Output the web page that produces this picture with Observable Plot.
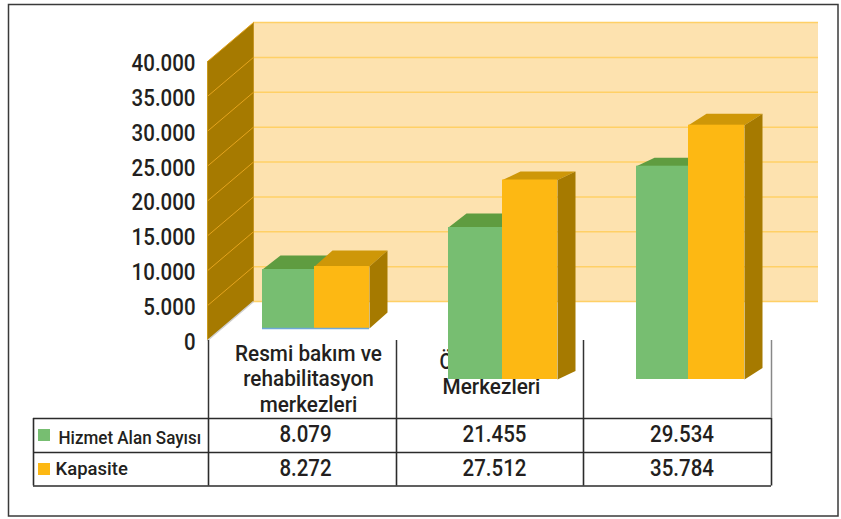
<!DOCTYPE html>
<html>
<head>
<meta charset="utf-8">
<script src="https://cdn.jsdelivr.net/npm/d3@7"></script>
<script src="https://cdn.jsdelivr.net/npm/@observablehq/plot@0.6"></script>
<style>
html,body{margin:0;padding:0;background:#fff}
svg{display:block;font-family:Roboto,sans-serif;font-weight:500}
</style>
</head>
<body>
<div id="chart"></div>
<script>
// ---- data ----
const categories = ["Resmi bakım ve\nrehabilitasyon\nmerkezleri", "Ö", "Merkezleri"];
const seriesNames = ["Hizmet Alan Sayısı", "Kapasite"];
const hizmetAlan = [8079, 21455, 29534];
const kapasite = [8272, 27512, 35784];
const yTicks = [0, 5000, 10000, 15000, 20000, 25000, 30000, 35000, 40000];
// drawn bars, in axis units (the picture's bars do not follow the table)
const barBase = [1720, -5590, -5590];
const greenTop = [10180, 16200, 24990];
const orangeTop = [10610, 23010, 30870];
const greenDepth = [2007, 2007, 1204];
const orangeDepth = [2294, 1219, 1634];

// ---- palette ----
const GREEN = "#77BE71", GREEN_TOP = "#5F9C40";
const ORANGE = "#FDB813", ORANGE_TOP = "#CE9708", ORANGE_SIDE = "#A67A00";
const WALL = "#FDE2AF", GRID = "#FFD066", SIDE_GRID = "#E5A41E", INK = "#231F20";

// ---- scales: one category = 187px, 40.000 = 279px ----
const W = 841, H = 519;
const pxX = px => (px - 314) / 187;
const pxY = px => (340 - px) * 40000 / 279;
const wallL = pxX(207), wallB = pxX(253), wallR = pxX(818);
const wallDy = pxY(301);
const depthX = 18 / 187;
const tick = d3.formatLocale({decimal: ",", thousands: ".", grouping: [3], currency: ["", ""]}).format(",");

const poly = (pts, fill) =>
  Plot.line(pts, {x: d => d[0], y: d => d[1], fill, stroke: "none", curve: "linear-closed"});

const marks = [];

// outer frame
marks.push(Plot.rect([0], {x1: pxX(8.5), x2: pxX(838), y1: pxY(516), y2: pxY(4.5), fill: "none", stroke: "#3a3a3a", strokeWidth: 1.5}));

// back wall and grid
marks.push(Plot.rect([0], {x1: wallB, x2: wallR, y1: wallDy, y2: 40000 + wallDy, fill: WALL}));
marks.push(Plot.ruleY(yTicks, {y: d => d + wallDy, x1: wallB, x2: wallR, stroke: GRID, strokeWidth: 1.5}));
marks.push(Plot.ruleX([wallB], {y1: wallDy, y2: 40000 + wallDy, stroke: "#E5B04A", strokeWidth: 1}));

// left wall and its grid
marks.push(poly([[wallL, 0], [wallB, wallDy], [wallB, 40000 + wallDy], [wallL, 40000]], ORANGE_SIDE));
marks.push(Plot.link(yTicks.slice(1), {x1: wallL, y1: d => d, x2: wallB, y2: d => d + wallDy, stroke: SIDE_GRID, strokeWidth: 1}));
marks.push(Plot.ruleX([wallL], {y1: 0, y2: 40000, stroke: "#C99A1E", strokeWidth: 1}));
marks.push(Plot.link([0], {x1: wallL, y1: 0, x2: wallB, y2: wallDy, stroke: "#cfcfcf", strokeWidth: 1.5}));

// table: upper column dividers
const colEdges = [pxX(208), pxX(396), pxX(583), pxX(771)];
marks.push(Plot.ruleX(colEdges, {y1: pxY(340), y2: pxY(418), stroke: (d, i) => i === 3 ? "#888" : "#333", strokeWidth: 1.5}));

// category labels (hidden partly by the bars in the reference)
const catFont = {fontSize: 21.5, fill: INK, lineHeight: 1.19};
marks.push(Plot.text([categories[0]], {x: pxX(308), y: pxY(377.5), text: d => d, ...catFont}));
marks.push(Plot.text([categories[1]], {x: pxX(439), y: pxY(360), text: d => d, textAnchor: "start", ...catFont}));
marks.push(Plot.text([categories[2]], {x: pxX(491), y: pxY(385), text: d => d, ...catFont}));

// bars
const barLeft = [pxX(262), pxX(448), pxX(636)];
const barMid = [pxX(314), pxX(502), pxX(688)];
const barRight = [pxX(369), pxX(557), pxX(744)];
hizmetAlan.forEach((_, i) => {
  const b = barBase[i], g = greenTop[i], o = orangeTop[i];
  const gd = greenDepth[i], od = orangeDepth[i];
  const gl = barLeft[i], mid = barMid[i], gr = barRight[i];
  marks.push(poly([[gl, g], [gl + depthX, g + gd], [mid + depthX, g + gd], [mid, g]], GREEN_TOP));
  marks.push(Plot.rect([0], {x1: gl, x2: mid, y1: b, y2: g, fill: GREEN}));
  marks.push(poly([[mid, o], [mid + depthX, o + od], [gr + depthX, o + od], [gr, o]], ORANGE_TOP));
  marks.push(poly([[gr, b], [gr + depthX, b + od], [gr + depthX, o + od], [gr, o]], ORANGE_SIDE));
  marks.push(Plot.rect([0], {x1: mid, x2: gr, y1: b, y2: o, fill: ORANGE}));
  if (i === 0) marks.push(Plot.ruleY([b], {x1: gl, x2: gr, stroke: "#6FA8D8", strokeWidth: 1.5}));
});

// table grid
const rowEdges = [pxY(418), pxY(452), pxY(485.5)];
marks.push(Plot.ruleY(rowEdges, {x1: pxX(33), x2: pxX(771), stroke: "#2b2b2b", strokeWidth: 1.6}));
marks.push(Plot.ruleX([pxX(33), ...colEdges], {y1: pxY(418), y2: pxY(485.5), stroke: "#2b2b2b", strokeWidth: 1.6}));

// table rows
const rows = [
  {name: seriesNames[0], values: hizmetAlan, y: pxY(434.5), ly: pxY(437.5), color: GREEN, swatch: [429, 441], tx: 58},
  {name: seriesNames[1], values: kapasite, y: pxY(468), ly: pxY(469), color: ORANGE, swatch: [463, 475], tx: 55}
];
const valueX = [pxX(305), pxX(494), pxX(681.5)];
for (const row of rows) {
  marks.push(Plot.rect([0], {x1: pxX(38), x2: pxX(50), y1: pxY(row.swatch[1]), y2: pxY(row.swatch[0]), fill: row.color}));
  marks.push(Plot.text([row.name], {x: pxX(row.tx), y: row.ly, text: d => d, textAnchor: "start", fontSize: 18.5, fill: INK}));
  marks.push(Plot.text(row.values, {x: (d, i) => valueX[i], y: row.y, text: d => tick(d), fontSize: 23, fill: INK}));
}

// y axis
marks.push(Plot.axisY({ticks: yTicks, tickFormat: tick, tickSize: 0, tickPadding: 0, fontSize: 23, label: null, color: INK, dy: 2}));

const chart = Plot.plot({
  width: W, height: H,
  marginLeft: 195, marginRight: 0, marginTop: 0, marginBottom: 0,
  style: {background: "transparent", fontFamily: "Roboto, sans-serif", color: INK},
  x: {domain: [pxX(195), pxX(W)], range: [195, W], axis: null},
  y: {domain: [pxY(H), pxY(0)], range: [H, 0]},
  marks
});
document.getElementById("chart").append(chart);

// the reference's type is narrower than Roboto: condense each text run
const catLines = new Set(["Resmi bakım ve", "rehabilitasyon", "merkezleri", "Merkezleri"]);
const narrow = s => s === "Kapasite" ? 1 : s === seriesNames[0] ? 0.92 : catLines.has(s) ? 0.965 : 0.89;
chart.querySelectorAll("text").forEach(t => {
  const runs = t.querySelectorAll("tspan");
  (runs.length ? [...runs] : [t]).forEach(r => {
    const len = r.getComputedTextLength();
    r.setAttribute("textLength", (len * narrow(r.textContent)).toFixed(1));
    r.setAttribute("lengthAdjust", "spacingAndGlyphs");
  });
});
</script>
</body>
</html>
